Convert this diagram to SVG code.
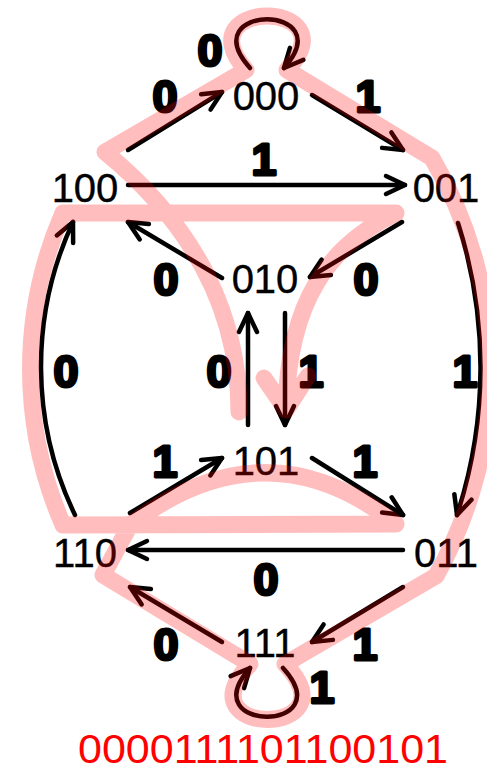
<svg xmlns="http://www.w3.org/2000/svg" width="487" height="774" viewBox="0 0 487 774">
<style>
.edge{fill:none;stroke:#000;stroke-width:4.5;stroke-linecap:round;marker-end:url(#ah)}
.node text{font-family:"Liberation Sans",Arial,sans-serif;font-size:40px;fill:#000;stroke:#000;stroke-width:0.4;text-anchor:middle}
.lbl{font-family:"Liberation Sans",Arial,sans-serif;font-size:45px;font-weight:bold;fill:#000;stroke:#000;stroke-width:3;stroke-linejoin:round;text-anchor:middle}
.hl{fill:none;stroke:#ff0000;stroke-width:17;stroke-linecap:round;stroke-linejoin:round}
</style>
<defs>
<marker id="ah" markerUnits="userSpaceOnUse" orient="auto" markerWidth="30" markerHeight="30" refX="0" refY="0" overflow="visible">
<path d="M -19 -9 L 0 0 L -19 9" fill="none" stroke="#000" stroke-width="4.5" stroke-linecap="round" stroke-linejoin="round"/>
</marker>
</defs>
<rect width="487" height="774" fill="#fff"/>
<g id="edges">
<path class="edge" d="M 250 68 C 192 3, 342 3, 284 68"/>
<line class="edge" x1="128" y1="150" x2="222" y2="92"/>
<line class="edge" x1="312" y1="95" x2="403" y2="150"/>
<line class="edge" x1="128" y1="185" x2="405" y2="185"/>
<line class="edge" x1="402" y1="222" x2="310" y2="277"/>
<line class="edge" x1="222" y1="278" x2="128" y2="222"/>
<line class="edge" x1="248" y1="425" x2="248" y2="313"/>
<line class="edge" x1="285" y1="313" x2="285" y2="425"/>
<path class="edge" d="M 75 515 A 342 342 0 0 1 73 222"/>
<path class="edge" d="M 458 223 A 475 475 0 0 1 457 515"/>
<line class="edge" x1="130" y1="513" x2="222" y2="458"/>
<line class="edge" x1="312" y1="458" x2="403" y2="515"/>
<line class="edge" x1="403" y1="550" x2="128" y2="550"/>
<line class="edge" x1="403" y1="587" x2="312" y2="642"/>
<line class="edge" x1="222" y1="642" x2="130" y2="587"/>
<path class="edge" d="M 283 668 C 342 733, 192 733, 250 668"/>
</g>
<g id="edge-labels">
<text class="lbl" x="210" y="66">0</text>
<text class="lbl" x="165" y="112">0</text>
<text class="lbl" x="368" y="112">1</text>
<text class="lbl" x="264" y="175">1</text>
<text class="lbl" x="166" y="295">0</text>
<text class="lbl" x="366" y="295">0</text>
<text class="lbl" x="66" y="387">0</text>
<text class="lbl" x="219" y="387">0</text>
<text class="lbl" x="311" y="387">1</text>
<text class="lbl" x="465" y="387">1</text>
<text class="lbl" x="165" y="477">1</text>
<text class="lbl" x="365" y="477">1</text>
<text class="lbl" x="266" y="595">0</text>
<text class="lbl" x="166" y="660">0</text>
<text class="lbl" x="365" y="660">1</text>
<text class="lbl" x="322" y="703">1</text>
</g>
<g id="node-000" class="node"><text x="266" y="110">000</text></g>
<g id="node-100" class="node"><text x="85" y="202">100</text></g>
<g id="node-001" class="node"><text x="446" y="202">001</text></g>
<g id="node-010" class="node"><text x="265" y="293">010</text></g>
<g id="node-101" class="node"><text x="266" y="475">101</text></g>
<g id="node-110" class="node"><text x="85" y="567">110</text></g>
<g id="node-011" class="node"><text x="446" y="567">011</text></g>
<g id="node-111" class="node"><text x="265" y="657">111</text></g>
<g id="highlight" opacity="0.26">
<path class="hl" d="M 239 412 C 239 320, 200 230, 105 152 L 246 70 C 183 -2, 352 -2, 287 70 L 432 158 A 420 420 0 0 1 436 576 L 285 664 C 355 738, 180 738, 250 664 L 103 575 L 130 525 Q 266 421 396 524 L 63 525 A 391 391 0 0 1 63 213 L 396 213 C 330 245, 288 300, 286 410 M 264 378 L 286 410 L 308 376"/>
</g>
<g id="sequence"><text x="263" y="763" textLength="370" lengthAdjust="spacingAndGlyphs" style="font-family:'Liberation Sans',Arial,sans-serif;font-size:40px;fill:#ff0000;text-anchor:middle">0000111101100101</text></g>
</svg>
